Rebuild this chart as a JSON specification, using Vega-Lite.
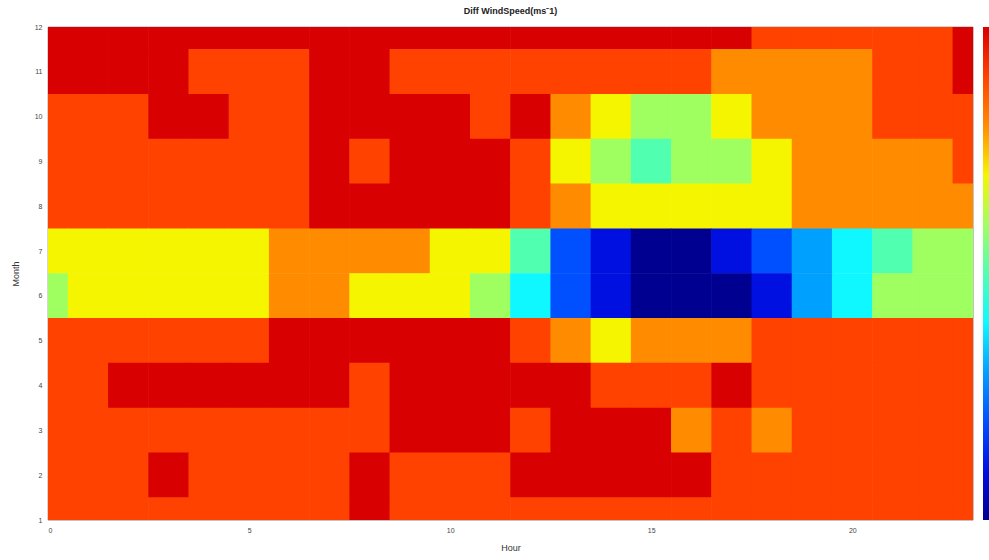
{
  "$schema": "https://vega.github.io/schema/vega-lite/v6.json",
  "width": 925,
  "height": 493,
  "autosize": {"type": "none"},
  "padding": {"left": 48, "top": 27, "right": 16, "bottom": 40},
  "background": "white",
  "title": {"text": "Diff WindSpeed(ms⁻1)", "fontSize": 9, "fontWeight": "bold", "font": "Liberation Sans", "offset": 7, "color": "#222"},
  "data": {"values": [
    {"h":0,"m":12,"v":0.5},{"h":1,"m":12,"v":0.5},{"h":2,"m":12,"v":0.5},{"h":3,"m":12,"v":0.5},{"h":4,"m":12,"v":0.5},{"h":5,"m":12,"v":0.5},{"h":6,"m":12,"v":0.5},{"h":7,"m":12,"v":0.5},{"h":8,"m":12,"v":0.5},{"h":9,"m":12,"v":0.5},{"h":10,"m":12,"v":0.5},{"h":11,"m":12,"v":0.5},{"h":12,"m":12,"v":0.5},{"h":13,"m":12,"v":0.5},{"h":14,"m":12,"v":0.5},{"h":15,"m":12,"v":0.5},{"h":16,"m":12,"v":0.5},{"h":17,"m":12,"v":0.5},{"h":18,"m":12,"v":0},{"h":19,"m":12,"v":0},{"h":20,"m":12,"v":0},{"h":21,"m":12,"v":0},{"h":22,"m":12,"v":0},{"h":23,"m":12,"v":0.5},
    {"h":0,"m":11,"v":0.5},{"h":1,"m":11,"v":0.5},{"h":2,"m":11,"v":0.5},{"h":3,"m":11,"v":0.5},{"h":4,"m":11,"v":0},{"h":5,"m":11,"v":0},{"h":6,"m":11,"v":0},{"h":7,"m":11,"v":0.5},{"h":8,"m":11,"v":0.5},{"h":9,"m":11,"v":0},{"h":10,"m":11,"v":0},{"h":11,"m":11,"v":0},{"h":12,"m":11,"v":0},{"h":13,"m":11,"v":0},{"h":14,"m":11,"v":0},{"h":15,"m":11,"v":0},{"h":16,"m":11,"v":0},{"h":17,"m":11,"v":-0.5},{"h":18,"m":11,"v":-0.5},{"h":19,"m":11,"v":-0.5},{"h":20,"m":11,"v":-0.5},{"h":21,"m":11,"v":0},{"h":22,"m":11,"v":0},{"h":23,"m":11,"v":0.5},
    {"h":0,"m":10,"v":0},{"h":1,"m":10,"v":0},{"h":2,"m":10,"v":0},{"h":3,"m":10,"v":0.5},{"h":4,"m":10,"v":0.5},{"h":5,"m":10,"v":0},{"h":6,"m":10,"v":0},{"h":7,"m":10,"v":0.5},{"h":8,"m":10,"v":0.5},{"h":9,"m":10,"v":0.5},{"h":10,"m":10,"v":0.5},{"h":11,"m":10,"v":0},{"h":12,"m":10,"v":0.5},{"h":13,"m":10,"v":-0.5},{"h":14,"m":10,"v":-1},{"h":15,"m":10,"v":-1.5},{"h":16,"m":10,"v":-1.5},{"h":17,"m":10,"v":-1},{"h":18,"m":10,"v":-0.5},{"h":19,"m":10,"v":-0.5},{"h":20,"m":10,"v":-0.5},{"h":21,"m":10,"v":0},{"h":22,"m":10,"v":0},{"h":23,"m":10,"v":0},
    {"h":0,"m":9,"v":0},{"h":1,"m":9,"v":0},{"h":2,"m":9,"v":0},{"h":3,"m":9,"v":0},{"h":4,"m":9,"v":0},{"h":5,"m":9,"v":0},{"h":6,"m":9,"v":0},{"h":7,"m":9,"v":0.5},{"h":8,"m":9,"v":0},{"h":9,"m":9,"v":0.5},{"h":10,"m":9,"v":0.5},{"h":11,"m":9,"v":0.5},{"h":12,"m":9,"v":0},{"h":13,"m":9,"v":-1},{"h":14,"m":9,"v":-1.5},{"h":15,"m":9,"v":-2},{"h":16,"m":9,"v":-1.5},{"h":17,"m":9,"v":-1.5},{"h":18,"m":9,"v":-1},{"h":19,"m":9,"v":-0.5},{"h":20,"m":9,"v":-0.5},{"h":21,"m":9,"v":-0.5},{"h":22,"m":9,"v":-0.5},{"h":23,"m":9,"v":0},
    {"h":0,"m":8,"v":0},{"h":1,"m":8,"v":0},{"h":2,"m":8,"v":0},{"h":3,"m":8,"v":0},{"h":4,"m":8,"v":0},{"h":5,"m":8,"v":0},{"h":6,"m":8,"v":0},{"h":7,"m":8,"v":0.5},{"h":8,"m":8,"v":0.5},{"h":9,"m":8,"v":0.5},{"h":10,"m":8,"v":0.5},{"h":11,"m":8,"v":0.5},{"h":12,"m":8,"v":0},{"h":13,"m":8,"v":-0.5},{"h":14,"m":8,"v":-1},{"h":15,"m":8,"v":-1},{"h":16,"m":8,"v":-1},{"h":17,"m":8,"v":-1},{"h":18,"m":8,"v":-1},{"h":19,"m":8,"v":-0.5},{"h":20,"m":8,"v":-0.5},{"h":21,"m":8,"v":-0.5},{"h":22,"m":8,"v":-0.5},{"h":23,"m":8,"v":-0.5},
    {"h":0,"m":7,"v":-1},{"h":1,"m":7,"v":-1},{"h":2,"m":7,"v":-1},{"h":3,"m":7,"v":-1},{"h":4,"m":7,"v":-1},{"h":5,"m":7,"v":-1},{"h":6,"m":7,"v":-0.5},{"h":7,"m":7,"v":-0.5},{"h":8,"m":7,"v":-0.5},{"h":9,"m":7,"v":-0.5},{"h":10,"m":7,"v":-1},{"h":11,"m":7,"v":-1},{"h":12,"m":7,"v":-2},{"h":13,"m":7,"v":-3.5},{"h":14,"m":7,"v":-4},{"h":15,"m":7,"v":-4.5},{"h":16,"m":7,"v":-4.5},{"h":17,"m":7,"v":-4},{"h":18,"m":7,"v":-3.5},{"h":19,"m":7,"v":-3},{"h":20,"m":7,"v":-2.5},{"h":21,"m":7,"v":-2},{"h":22,"m":7,"v":-1.5},{"h":23,"m":7,"v":-1.5},
    {"h":0,"m":6,"v":-1.5},{"h":1,"m":6,"v":-1},{"h":2,"m":6,"v":-1},{"h":3,"m":6,"v":-1},{"h":4,"m":6,"v":-1},{"h":5,"m":6,"v":-1},{"h":6,"m":6,"v":-0.5},{"h":7,"m":6,"v":-0.5},{"h":8,"m":6,"v":-1},{"h":9,"m":6,"v":-1},{"h":10,"m":6,"v":-1},{"h":11,"m":6,"v":-1.5},{"h":12,"m":6,"v":-2.5},{"h":13,"m":6,"v":-3.5},{"h":14,"m":6,"v":-4},{"h":15,"m":6,"v":-4.5},{"h":16,"m":6,"v":-4.5},{"h":17,"m":6,"v":-4.5},{"h":18,"m":6,"v":-4},{"h":19,"m":6,"v":-3},{"h":20,"m":6,"v":-2.5},{"h":21,"m":6,"v":-1.5},{"h":22,"m":6,"v":-1.5},{"h":23,"m":6,"v":-1.5},
    {"h":0,"m":5,"v":0},{"h":1,"m":5,"v":0},{"h":2,"m":5,"v":0},{"h":3,"m":5,"v":0},{"h":4,"m":5,"v":0},{"h":5,"m":5,"v":0},{"h":6,"m":5,"v":0.5},{"h":7,"m":5,"v":0.5},{"h":8,"m":5,"v":0.5},{"h":9,"m":5,"v":0.5},{"h":10,"m":5,"v":0.5},{"h":11,"m":5,"v":0.5},{"h":12,"m":5,"v":0},{"h":13,"m":5,"v":-0.5},{"h":14,"m":5,"v":-1},{"h":15,"m":5,"v":-0.5},{"h":16,"m":5,"v":-0.5},{"h":17,"m":5,"v":-0.5},{"h":18,"m":5,"v":0},{"h":19,"m":5,"v":0},{"h":20,"m":5,"v":0},{"h":21,"m":5,"v":0},{"h":22,"m":5,"v":0},{"h":23,"m":5,"v":0},
    {"h":0,"m":4,"v":0},{"h":1,"m":4,"v":0},{"h":2,"m":4,"v":0.5},{"h":3,"m":4,"v":0.5},{"h":4,"m":4,"v":0.5},{"h":5,"m":4,"v":0.5},{"h":6,"m":4,"v":0.5},{"h":7,"m":4,"v":0.5},{"h":8,"m":4,"v":0},{"h":9,"m":4,"v":0.5},{"h":10,"m":4,"v":0.5},{"h":11,"m":4,"v":0.5},{"h":12,"m":4,"v":0.5},{"h":13,"m":4,"v":0.5},{"h":14,"m":4,"v":0},{"h":15,"m":4,"v":0},{"h":16,"m":4,"v":0},{"h":17,"m":4,"v":0.5},{"h":18,"m":4,"v":0},{"h":19,"m":4,"v":0},{"h":20,"m":4,"v":0},{"h":21,"m":4,"v":0},{"h":22,"m":4,"v":0},{"h":23,"m":4,"v":0},
    {"h":0,"m":3,"v":0},{"h":1,"m":3,"v":0},{"h":2,"m":3,"v":0},{"h":3,"m":3,"v":0},{"h":4,"m":3,"v":0},{"h":5,"m":3,"v":0},{"h":6,"m":3,"v":0},{"h":7,"m":3,"v":0},{"h":8,"m":3,"v":0},{"h":9,"m":3,"v":0.5},{"h":10,"m":3,"v":0.5},{"h":11,"m":3,"v":0.5},{"h":12,"m":3,"v":0},{"h":13,"m":3,"v":0.5},{"h":14,"m":3,"v":0.5},{"h":15,"m":3,"v":0.5},{"h":16,"m":3,"v":-0.5},{"h":17,"m":3,"v":0},{"h":18,"m":3,"v":-0.5},{"h":19,"m":3,"v":0},{"h":20,"m":3,"v":0},{"h":21,"m":3,"v":0},{"h":22,"m":3,"v":0},{"h":23,"m":3,"v":0},
    {"h":0,"m":2,"v":0},{"h":1,"m":2,"v":0},{"h":2,"m":2,"v":0},{"h":3,"m":2,"v":0.5},{"h":4,"m":2,"v":0},{"h":5,"m":2,"v":0},{"h":6,"m":2,"v":0},{"h":7,"m":2,"v":0},{"h":8,"m":2,"v":0.5},{"h":9,"m":2,"v":0},{"h":10,"m":2,"v":0},{"h":11,"m":2,"v":0},{"h":12,"m":2,"v":0.5},{"h":13,"m":2,"v":0.5},{"h":14,"m":2,"v":0.5},{"h":15,"m":2,"v":0.5},{"h":16,"m":2,"v":0.5},{"h":17,"m":2,"v":0},{"h":18,"m":2,"v":0},{"h":19,"m":2,"v":0},{"h":20,"m":2,"v":0},{"h":21,"m":2,"v":0},{"h":22,"m":2,"v":0},{"h":23,"m":2,"v":0},
    {"h":0,"m":1,"v":0},{"h":1,"m":1,"v":0},{"h":2,"m":1,"v":0},{"h":3,"m":1,"v":0},{"h":4,"m":1,"v":0},{"h":5,"m":1,"v":0},{"h":6,"m":1,"v":0},{"h":7,"m":1,"v":0},{"h":8,"m":1,"v":0.5},{"h":9,"m":1,"v":0},{"h":10,"m":1,"v":0},{"h":11,"m":1,"v":0},{"h":12,"m":1,"v":0},{"h":13,"m":1,"v":0},{"h":14,"m":1,"v":0},{"h":15,"m":1,"v":0},{"h":16,"m":1,"v":0},{"h":17,"m":1,"v":0},{"h":18,"m":1,"v":0},{"h":19,"m":1,"v":0},{"h":20,"m":1,"v":0},{"h":21,"m":1,"v":0},{"h":22,"m":1,"v":0},{"h":23,"m":1,"v":0}
  ]},
  "mark": {"type": "rect", "width": 40.8, "height": 45.4, "clip": true},
  "encoding": {
    "x": {"field": "h", "type": "quantitative", "scale": {"domain": [0, 23], "nice": false, "zero": false},
      "axis": {"title": "Hour", "values": [0, 5, 10, 15, 20], "grid": false, "ticks": false, "domain": false, "labelFontSize": 7, "labelPadding": 6, "labelColor": "#444", "titleFontSize": 9, "titleFontWeight": "normal", "titleColor": "#333", "titlePadding": 10, "labelFont": "Liberation Sans", "titleFont": "Liberation Sans"}},
    "y": {"field": "m", "type": "quantitative", "scale": {"domain": [1, 12], "nice": false, "zero": false},
      "axis": {"title": "Month", "values": [1,2,3,4,5,6,7,8,9,10,11,12], "grid": false, "ticks": false, "domain": false, "labelFontSize": 7, "labelPadding": 6, "labelColor": "#444", "titleFontSize": 9, "titleFontWeight": "normal", "titleColor": "#333", "titlePadding": 14, "labelFont": "Liberation Sans", "titleFont": "Liberation Sans"}},
    "color": {"field": "v", "type": "quantitative", "title": null,
      "scale": {"domain": [-4.5, -4, -3.5, -3, -2.5, -2, -1.5, -1, -0.5, 0, 0.5],
        "range": ["#000090", "#0010e0", "#0050ff", "#00a0ff", "#10f8ff", "#50ffb0", "#a0ff60", "#f5f500", "#ff8c00", "#ff4200", "#d80000"]},
      "legend": {"orient": "right", "offset": 10, "labels": false, "labelExpr": "''", "labelFontSize": 1, "values": [], "gradientLength": 493, "gradientThickness": 10, "gradientStrokeWidth": 0, "padding": 0}}
  },
  "config": {"view": {"stroke": "#555", "strokeWidth": 0.6}}
}
